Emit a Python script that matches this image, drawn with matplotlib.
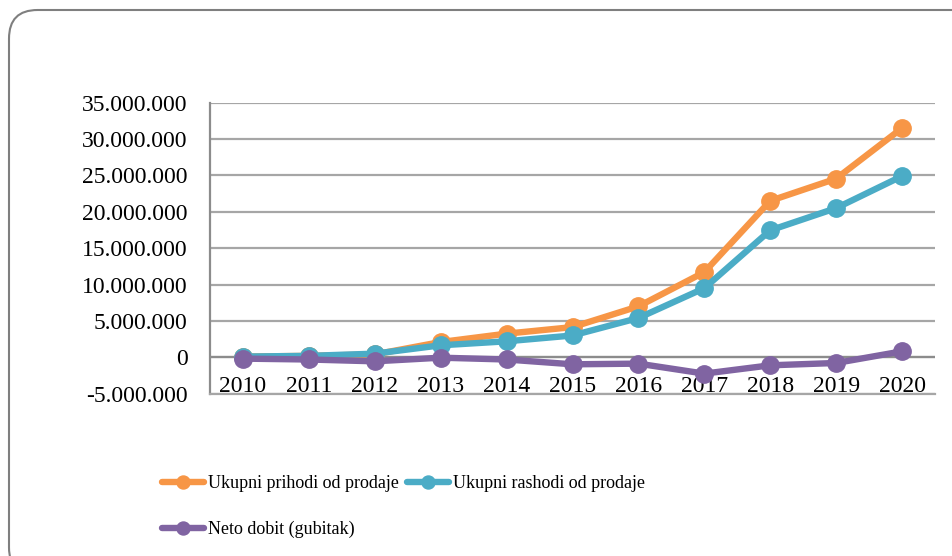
import numpy as np
import matplotlib.pyplot as plt
from matplotlib.patches import FancyBboxPatch
from matplotlib.ticker import FuncFormatter

plt.rcParams['font.family'] = ['Liberation Serif', 'DejaVu Serif']

godine = ['2010', '2011', '2012', '2013', '2014', '2015', '2016', '2017', '2018', '2019', '2020']
prihodi = [0.10e6, 0.20e6, 0.40e6, 2.10e6, 3.25e6, 4.15e6, 7.00e6, 11.70e6, 21.50e6, 24.55e6, 31.50e6]
rashodi = [0.10e6, 0.20e6, 0.50e6, 1.65e6, 2.20e6, 3.00e6, 5.40e6, 9.50e6, 17.45e6, 20.50e6, 24.90e6]
neto = [-0.18e6, -0.30e6, -0.55e6, -0.05e6, -0.30e6, -0.96e6, -0.87e6, -2.24e6, -1.10e6, -0.78e6, 0.82e6]
nazivi = ['Ukupni prihodi od prodaje', 'Ukupni rashodi od prodaje', 'Neto dobit (gubitak)']
boje = ['#F79646', '#4BACC6', '#8064A2']

W, H = 952, 556
fig = plt.figure(figsize=(W / 100, H / 100), dpi=100)

# zaobljeni okvir (desni i donji rub izlaze iz slike)
okvir = FancyBboxPatch((9 / W, -20 / H), 975 / W, 546 / H + 20 / H,
                       boxstyle='round,pad=0,rounding_size=0.03',
                       transform=fig.transFigure, facecolor='none',
                       edgecolor='#7F7F7F', linewidth=1.5, mutation_aspect=W / H)
fig.patches.append(okvir)

ax = fig.add_axes([210 / W, 1 - 393.7 / H, 725 / W, (393.7 - 102.6) / H])
ax.set_facecolor('none')

x = np.arange(len(godine))
linije = []
for vals, naziv, boja in zip([prihodi, rashodi, neto], nazivi, boje):
    l, = ax.plot(x, vals, color=boja, lw=4.6, marker='o', ms=12.5,
                 label=naziv, solid_capstyle='round', zorder=3)
    linije.append(l)

ax.set_xlim(-0.5, len(godine) - 0.5)
ax.set_ylim(-5e6, 35e6)
ax.set_yticks(np.arange(-5e6, 35e6 + 1, 5e6))
ax.yaxis.set_major_formatter(FuncFormatter(lambda v, p: f'{int(v):,}'.replace(',', '.')))
ax.set_xticks(x)
ax.set_xticklabels(godine)

ax.grid(axis='y', color='#A6A6A6', lw=1.6, zorder=0)
ax.axhline(0, color='#8C8C8C', lw=1.6, zorder=1)
for s in ['top', 'right']:
    ax.spines[s].set_visible(False)
ax.spines['left'].set_color('#8C8C8C')
ax.spines['left'].set_linewidth(1.6)
ax.spines['bottom'].set_color('#A6A6A6')
ax.spines['bottom'].set_linewidth(1.6)
ax.tick_params(axis='y', length=0, pad=16, labelsize=17)
ax.tick_params(axis='x', length=0, pad=-13, labelsize=17)
ax.set_axisbelow(True)

fig.legend([linije[0], linije[2], linije[1]], [nazivi[0], nazivi[2], nazivi[1]],
           ncol=2, loc='upper left', bbox_to_anchor=(162 / W, 1 - 475 / H),
           frameon=False, fontsize=13, borderpad=0, handlelength=2.3,
           handletextpad=0.25, columnspacing=0.45, labelspacing=1.6,
           borderaxespad=0, markerscale=0.75)

fig.savefig('out.png', dpi=100)
